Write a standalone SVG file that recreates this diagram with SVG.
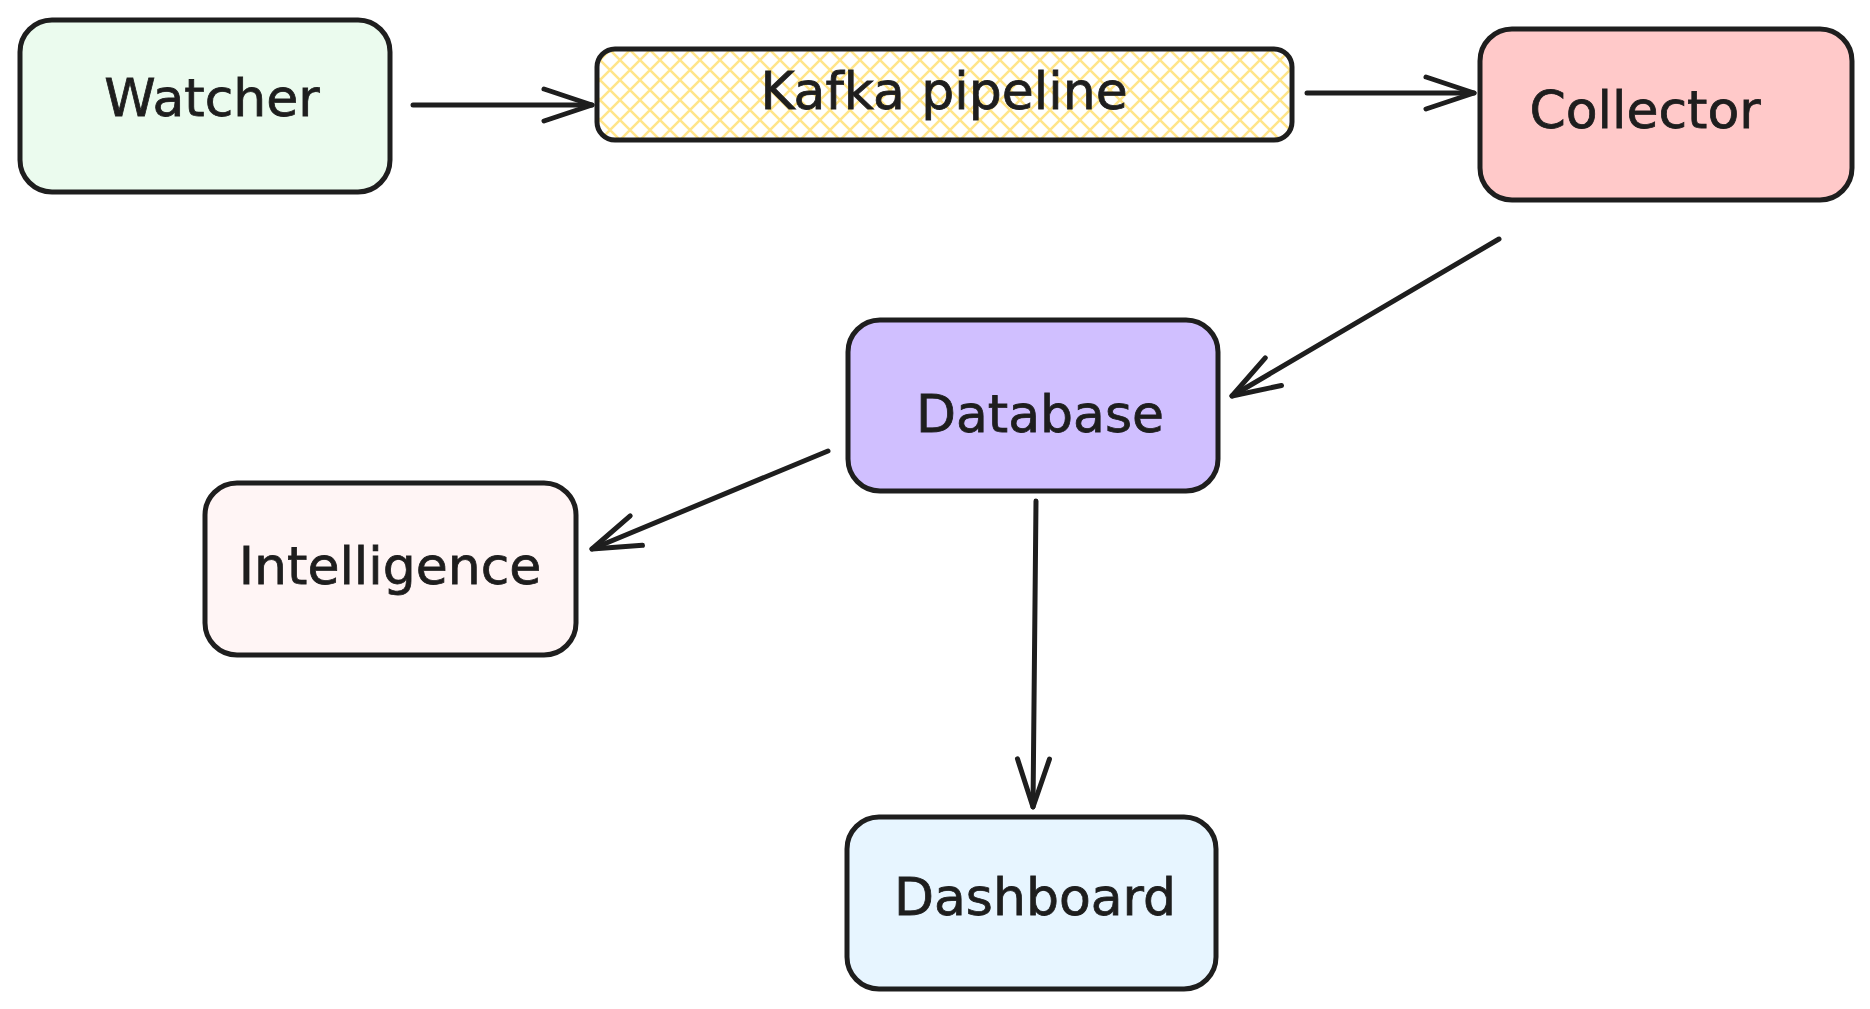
<svg xmlns="http://www.w3.org/2000/svg" width="1870" height="1009" viewBox="0 0 1870 1009">
  <style>
    .box { stroke: #1e1e1e; stroke-width: 5; stroke-linejoin: round; }
    .lbl { font-family: "DejaVu Sans", "Liberation Sans", sans-serif; font-size: 52px; fill: #1e1e1e; text-anchor: middle; stroke: #1e1e1e; stroke-width: 0.8; }
    .conn { fill: none; stroke: #1e1e1e; stroke-width: 5; stroke-linecap: round; marker-end: url(#ah); }
  </style>
  <defs>
    <marker id="ah" markerUnits="userSpaceOnUse" markerWidth="60" markerHeight="40" refX="50" refY="20" orient="auto" overflow="visible">
      <path d="M2,4 L50,20 L2,36" fill="none" stroke="#1e1e1e" stroke-width="5" stroke-linecap="round" stroke-linejoin="round"/>
    </marker>
    <pattern id="hatch" patternUnits="userSpaceOnUse" width="20" height="20">
      <path d="M-5,5 L5,-5 M0,20 L20,0 M15,25 L25,15 M-5,15 L5,25 M0,0 L20,20 M15,-5 L25,5" stroke="#ffe58a" stroke-width="2.5" fill="none"/>
    </pattern>
  </defs>
  <rect width="1870" height="1009" fill="#ffffff"/>

  <g id="connectors">
    <path class="conn" d="M413,105 L592,105"/>
    <path class="conn" d="M1307,93 L1474,93"/>
    <path class="conn" d="M1499,239 L1232,396"/>
    <path class="conn" d="M828,451 L592,549"/>
    <path class="conn" d="M1036,501 L1033,807"/>
  </g>

  <g id="watcher">
    <rect class="box" x="20" y="20" width="370" height="172" rx="32" fill="#ebfbee"/>
    <text class="lbl" x="212" y="116">Watcher</text>
  </g>

  <g id="kafka">
    <rect x="597" y="49" width="695" height="91" rx="18" fill="url(#hatch)"/>
    <rect class="box" x="597" y="49" width="695" height="91" rx="18" fill="none"/>
    <text class="lbl" x="944" y="109">Kafka pipeline</text>
  </g>

  <g id="collector">
    <rect class="box" x="1480" y="29" width="372" height="171" rx="32" fill="#ffc9c9"/>
    <text class="lbl" x="1645" y="128">Collector</text>
  </g>

  <g id="database">
    <rect class="box" x="848" y="320" width="370" height="171" rx="32" fill="#d0bfff"/>
    <text class="lbl" x="1040" y="432">Database</text>
  </g>

  <g id="intelligence">
    <rect class="box" x="205" y="483" width="371" height="172" rx="32" fill="#fff5f5"/>
    <text class="lbl" x="390" y="584">Intelligence</text>
  </g>

  <g id="dashboard">
    <rect class="box" x="847" y="817" width="369" height="172" rx="32" fill="#e7f5ff"/>
    <text class="lbl" x="1035" y="915">Dashboard</text>
  </g>
</svg>
